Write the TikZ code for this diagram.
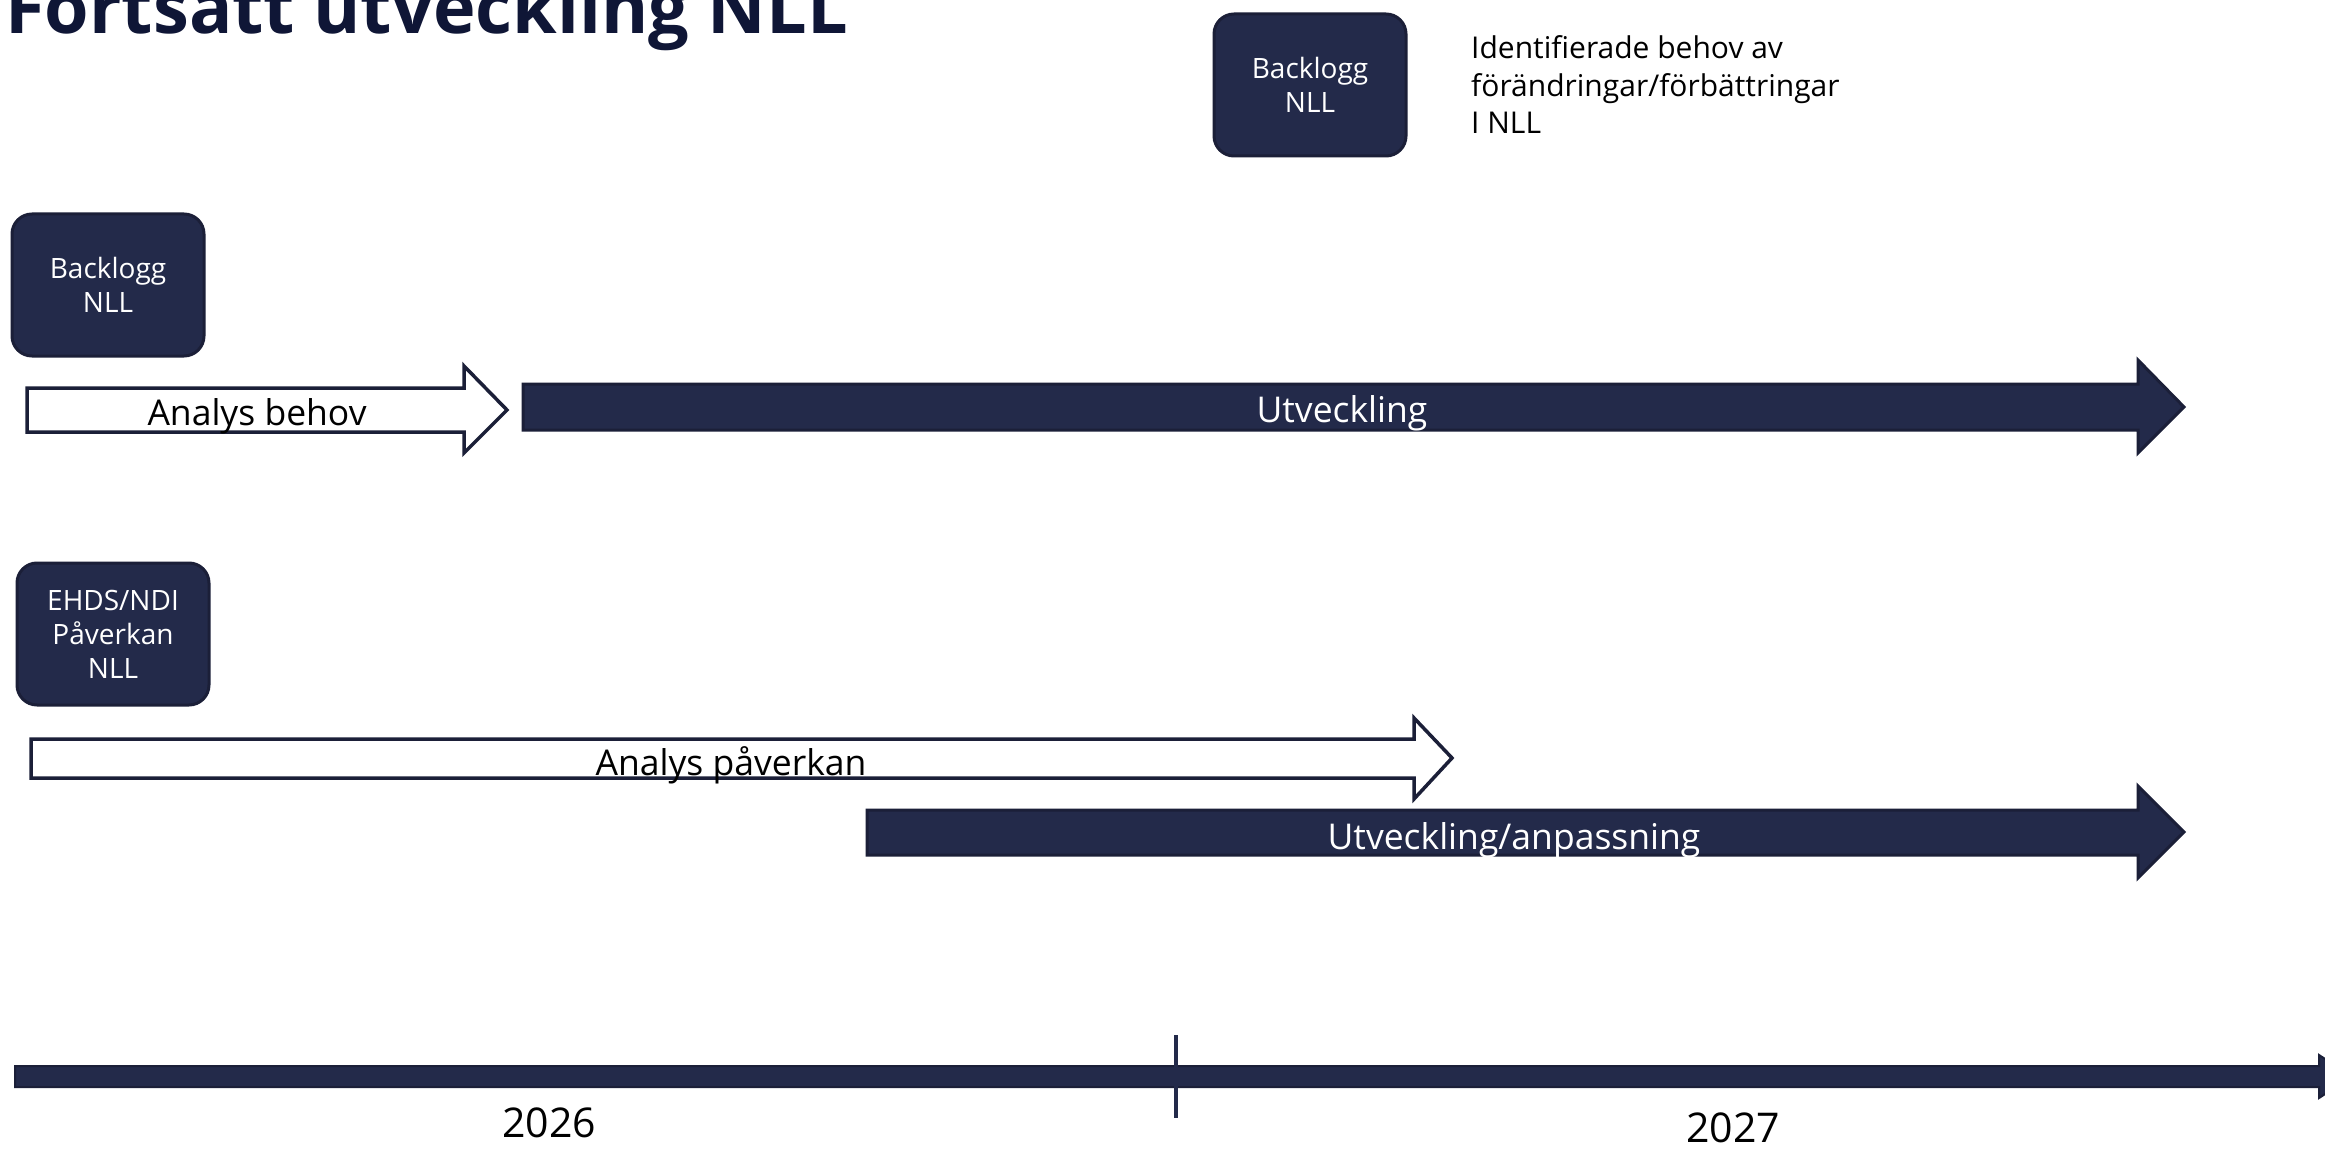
\documentclass[tikz,border=0pt]{standalone}
\usepackage{fontspec}
\setmainfont{Open Sans}
\definecolor{navy}{HTML}{232A4A}
\definecolor{navyedge}{HTML}{1B1F38}
\definecolor{titlec}{HTML}{0F1636}
\begin{document}
\begin{tikzpicture}[x=1pt,y=-1pt,
  box/.style={rectangle, rounded corners=20pt, fill=navy, draw=navyedge, line width=3pt,
    text=white, align=center, font=\fontsize{28}{34}\selectfont,
    minimum width=192pt, minimum height=142pt, inner sep=0pt},
  lightarrow/.style={fill=white, draw=navyedge, line width=3.5pt, line join=miter},
  darkarrow/.style={fill=navy, draw=navyedge, line width=3pt, line join=miter},
  lbl/.style={font=\fontsize{35.5}{40}\selectfont, inner sep=0pt, anchor=base},
  year/.style={font=\fontsize{41}{46}\selectfont, inner sep=0pt, anchor=base}]
\clip (0,0) rectangle (2325,1150);
\fill[white] (0,0) rectangle (2325,1150);

% title
\node[anchor=base west, inner sep=0pt, text=titlec, font=\fontsize{72}{82}\selectfont\bfseries]
  (title) at (5,34) {Fortsatt utveckling NLL};

% legend box and description
\node[box] (bk1) at (1310,85) {Backlogg\\NLL};
\node[anchor=west, inner sep=0pt, align=left, font=\fontsize{30}{37.5}\selectfont]
  (desc) at (1471,85) {Identifierade behov av\\förändringar/förbättringar\\I NLL};

% row 1
\node[box] (bk2) at (108,285) {Backlogg\\NLL};
\draw[lightarrow] (27,388) -- (464,388) -- (464,366) -- (507,410) -- (464,453) -- (464,432) -- (27,432) -- cycle;
\node[lbl] (ab) at (257,425) {Analys behov};
\draw[darkarrow] (523,384) -- (2138,384) -- (2138,360) -- (2184,407) -- (2138,453) -- (2138,430) -- (523,430) -- cycle;
\node[lbl, text=white] (utv) at (1342,422) {Utveckling};

% row 2
\node[box] (ehds) at (113,634) {EHDS/NDI\\Påverkan\\NLL};
\draw[lightarrow] (31,739) -- (1414,739) -- (1414,718) -- (1452,758) -- (1414,799) -- (1414,778) -- (31,778) -- cycle;
\node[lbl] (ap) at (731,775) {Analys påverkan};
\draw[darkarrow] (867,810) -- (2138,810) -- (2138,786) -- (2184,832) -- (2138,878) -- (2138,855) -- (867,855) -- cycle;
\node[lbl, text=white] (ua) at (1514,849) {Utveckling/anpassning};

% timeline
\draw[darkarrow, line width=2pt] (15,1066) -- (2319,1066) -- (2319,1055) -- (2352,1076.5) -- (2319,1098) -- (2319,1087) -- (15,1087) -- cycle;
\draw[navy, line width=4pt] (1176,1035) -- (1176,1118);
\node[year] (y26) at (549,1137) {2026};
\node[year] (y27) at (1733,1142) {2027};
\end{tikzpicture}
\end{document}
